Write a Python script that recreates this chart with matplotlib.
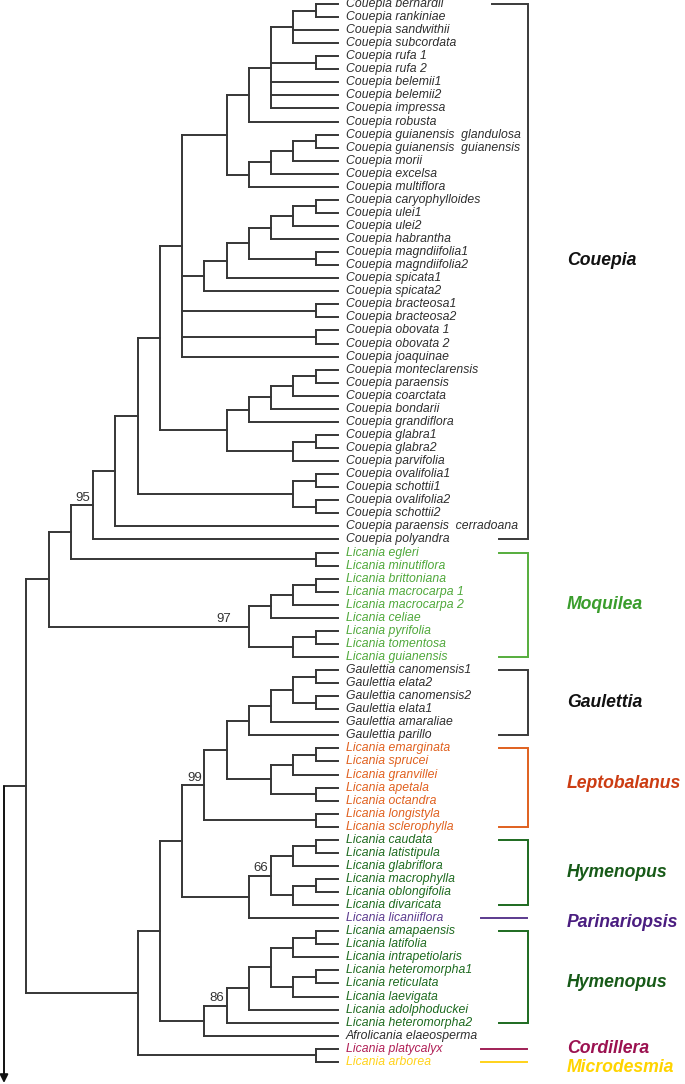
import matplotlib
matplotlib.use("Agg")
import matplotlib.pyplot as plt
from matplotlib.collections import LineCollection

# ---------------- data ----------------
couepia_leaves = [
    "Couepia bernardii", "Couepia rankiniae", "Couepia sandwithii", "Couepia subcordata",
    "Couepia rufa 1", "Couepia rufa 2", "Couepia belemii1", "Couepia belemii2",
    "Couepia impressa", "Couepia robusta", "Couepia guianensis  glandulosa",
    "Couepia guianensis  guianensis", "Couepia morii", "Couepia excelsa",
    "Couepia multiflora", "Couepia caryophylloides", "Couepia ulei1", "Couepia ulei2",
    "Couepia habrantha", "Couepia magndiifolia1", "Couepia magndiifolia2",
    "Couepia spicata1", "Couepia spicata2", "Couepia bracteosa1", "Couepia bracteosa2",
    "Couepia obovata 1", "Couepia obovata 2", "Couepia joaquinae",
    "Couepia monteclarensis", "Couepia paraensis", "Couepia coarctata",
    "Couepia bondarii", "Couepia grandiflora", "Couepia glabra1", "Couepia glabra2",
    "Couepia parvifolia", "Couepia ovalifolia1", "Couepia schottii1",
    "Couepia ovalifolia2", "Couepia schottii2", "Couepia paraensis  cerradoana",
    "Couepia polyandra",
]
moquilea_leaves = [
    "Licania egleri", "Licania minutiflora", "Licania brittoniana",
    "Licania macrocarpa 1", "Licania macrocarpa 2", "Licania celiae",
    "Licania pyrifolia", "Licania tomentosa", "Licania guianensis",
]
gaulettia_leaves = [
    "Gaulettia canomensis1", "Gaulettia elata2", "Gaulettia canomensis2",
    "Gaulettia elata1", "Gaulettia amaraliae", "Gaulettia parillo",
]
leptobalanus_leaves = [
    "Licania emarginata", "Licania sprucei", "Licania granvillei", "Licania apetala",
    "Licania octandra", "Licania longistyla", "Licania sclerophylla",
]
hymenopus_a_leaves = [
    "Licania caudata", "Licania latistipula", "Licania glabriflora",
    "Licania macrophylla", "Licania oblongifolia", "Licania divaricata",
]
parinariopsis_leaves = ["Licania licaniiflora"]
hymenopus_b_leaves = [
    "Licania amapaensis", "Licania latifolia", "Licania intrapetiolaris",
    "Licania heteromorpha1", "Licania reticulata", "Licania laevigata",
    "Licania adolphoduckei", "Licania heteromorpha2",
]
afrolicania_leaves = ["Afrolicania elaeosperma"]
cordillera_leaves = ["Licania platycalyx"]
microdesmia_leaves = ["Licania arborea"]

leaf_groups = [
    (couepia_leaves, "#2e2e2e"),
    (moquilea_leaves, "#4fa83a"),
    (gaulettia_leaves, "#2e2e2e"),
    (leptobalanus_leaves, "#e0601e"),
    (hymenopus_a_leaves, "#1d6a1f"),
    (parinariopsis_leaves, "#5b3a8e"),
    (hymenopus_b_leaves, "#1d6a1f"),
    (afrolicania_leaves, "#2e2e2e"),
    (cordillera_leaves, "#b01e55"),
    (microdesmia_leaves, "#ffd21a"),
]

# Topology (leaf numbers are 1-based positions in the full leaf list)
clade_couepia_a = ((((1, 2), 3, 4), (5, 6), 7, 8, 9), 10)
clade_couepia_b = ((((11, 12), 13), 14), 15)
clade_couepia_c = ((((((16, 17), 18), 19), (20, 21)), 22), 23)
clade_couepia_d = (((clade_couepia_a, clade_couepia_b), clade_couepia_c, (24, 25), (26, 27), 28),
                   (((((29, 30), 31), 32), 33), ((34, 35), 36)))
clade_couepia = (((clade_couepia_d, ((37, 38), (39, 40))), 41), 42)
clade_moquilea = ((((45, 46), 47), 48), ((49, 50), 51))
clade_upper = ((clade_couepia, (43, 44)), clade_moquilea)
clade_gaulettia = ((((52, 53), (54, 55)), 56), 57)
clade_lepto = ((clade_gaulettia, (((58, 59), 60), (61, 62))), (63, 64))
clade_hym_a = (((65, 66), 67), ((68, 69), 70))
clade_hym_b = (((((72, 73), 74), ((75, 76), 77)), 78), 79)
clade_lower = ((((clade_lepto, (clade_hym_a, 71)), (clade_hym_b, 80))), (81, 82))
tree = (clade_upper, clade_lower)

# Support values: (first leaf, last leaf) of node -> value
support_nodes = [(1, 42), (45, 51), (52, 64), (65, 70), (72, 79)]
support_values = ["95", "97", "99", "66", "86"]

# Clade brackets: name, first leaf, last leaf, line colour, label colour
clade_names = ["Couepia", "Moquilea", "Gaulettia", "Leptobalanus", "Hymenopus",
               "Parinariopsis", "Hymenopus", "Cordillera", "Microdesmia"]
clade_first = [1, 43, 52, 58, 65, 71, 72, 81, 82]
clade_last = [42, 51, 57, 64, 70, 71, 79, 81, 82]
clade_line_colors = ["#3a3a3a", "#55ad3c", "#3a3a3a", "#e0601e", "#1d6a1f",
                     "#5b3a8e", "#1d6a1f", "#a01f55", "#ffd21a"]
clade_label_colors = ["#111111", "#3a9d2c", "#111111", "#cc3c12", "#175a18",
                      "#4a1d80", "#175a18", "#9b1150", "#ffd400"]

# ---------------- layout ----------------
W_PX, H_PX = 685, 1084
TIP_PX, ROOT_PX = 338, 4
TOP_PX, STEP_Y_PX = 4, 13.06
N_LEVELS = 15
sx = (TIP_PX - ROOT_PX) / N_LEVELS          # px per level
xlim = (-ROOT_PX / sx, (W_PX - ROOT_PX) / sx)
ylim = ((H_PX - TOP_PX) / STEP_Y_PX, -TOP_PX / STEP_Y_PX)


def px_x(p):
    return (p - ROOT_PX) / sx


def px_y(p):
    return (p - TOP_PX) / STEP_Y_PX


tree_color = "#363636"
LW = 1.4

fig = plt.figure(figsize=(W_PX / 100, H_PX / 100), dpi=100)
ax = fig.add_axes([0, 0, 1, 1])
ax.set_xlim(*xlim)
ax.set_ylim(*ylim)
ax.axis("off")

segments = []
node_pos = {}


def height(node):
    if isinstance(node, int):
        return 0
    return 1 + max(height(c) for c in node)


def leaves_of(node):
    if isinstance(node, int):
        return [node]
    out = []
    for c in node:
        out += leaves_of(c)
    return out


def layout(node):
    """returns (x, y) of node and records segments"""
    if isinstance(node, int):
        return N_LEVELS, node - 1
    x = N_LEVELS - height(node)
    child_pos = [layout(c) for c in node]
    ys = [p[1] for p in child_pos]
    y = (ys[0] + ys[-1]) / 2
    segments.append([(x, ys[0]), (x, ys[-1])])
    for cx, cy in child_pos:
        segments.append([(x, cy), (cx, cy)])
    lv = leaves_of(node)
    node_pos[(min(lv), max(lv))] = (x, y)
    return x, y


rx, ry = layout(tree)
# root stem to level 0
segments.append([(0, ry), (rx, ry)])
lc = LineCollection(segments, colors=tree_color, linewidths=LW, capstyle="projecting")
ax.add_collection(lc)
ax.annotate("", xy=(0, px_y(1083)), xytext=(0, ry),
            arrowprops=dict(arrowstyle="-|>", color="#111111", lw=LW,
                            mutation_scale=12, shrinkA=0, shrinkB=0))

# leaf labels
LEAF_FONT = ["Liberation Sans", "DejaVu Sans"]
label_x = N_LEVELS + px_x(345.7) - px_x(TIP_PX)
i = 0
for names, col in leaf_groups:
    for nm in names:
        ax.text(label_x, i, nm, fontsize=8.8, style="italic", color=col,
                family=LEAF_FONT, ha="left", va="center")
        i += 1

# support values
support_dx = {"97": 0.7}
for key, val in zip(support_nodes, support_values):
    nx, ny = node_pos[key]
    ax.text(nx - 0.12 - support_dx.get(val, 0.0), ny - 0.12, val, fontsize=9.5,
            color="#333333", family=LEAF_FONT, ha="right", va="bottom")

# clade brackets and labels
bx = px_x(528)
tick_x0 = px_x(499)
single_x0, single_x1 = px_x(481), px_x(527)
lab_x = px_x(567)
label_dy = {"Couepia": -0.85, "Leptobalanus": -0.35, "Parinariopsis": 0.3,
            "Cordillera": -0.05, "Microdesmia": 0.45}
for k, (nm, f, l, lcol, tcol) in enumerate(zip(clade_names, clade_first, clade_last,
                                                 clade_line_colors, clade_label_colors)):
    y0, y1 = f - 1, l - 1
    if f == l:
        ax.plot([single_x0, single_x1], [y0, y0], color=lcol, lw=LW)
    else:
        top_x0 = px_x(492) if nm == "Couepia" else tick_x0
        ax.plot([top_x0, bx, bx, tick_x0], [y0, y0, y1, y1], color=lcol, lw=LW,
                solid_joinstyle="miter")
    ym = (y0 + y1) / 2 + label_dy.get(nm, 0.0)
    if nm == "Hymenopus" and f == 72:
        ym += 0.45
    ax.text(lab_x, ym, nm, fontsize=12.7, style="italic", weight="bold", color=tcol,
            family=LEAF_FONT, ha="left", va="center")

fig.savefig("out.png", dpi=100)
